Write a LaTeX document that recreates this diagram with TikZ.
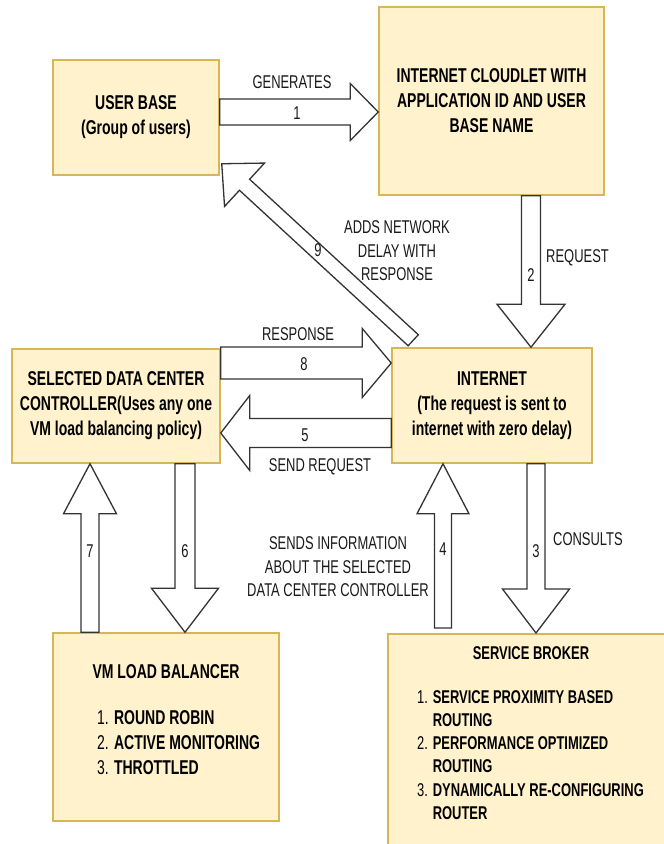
\documentclass[tikz,border=0pt]{standalone}
\usepackage{fontspec}
\setmainfont{Liberation Sans}[FakeStretch=0.7]
\usetikzlibrary{calc,positioning}

\definecolor{boxfill}{HTML}{FFF2CC}
\definecolor{boxline}{HTML}{D6B656}

% wide hollow arrow: tail, tip, half shaft, half head, head length
\newcommand{\blockarrow}[5]{%
  \coordinate (bh) at ($(#2)!#5pt!(#1)$);
  \draw[blockarr] ($(#1)!#3pt!90:(#2)$) -- ($(bh)!#3pt!90:(#2)$) -- ($(bh)!#4pt!90:(#2)$) -- (#2)
    -- ($(bh)!#4pt!-90:(#2)$) -- ($(bh)!#3pt!-90:(#2)$) -- ($(#1)!#3pt!-90:(#2)$) -- cycle;}

\begin{document}
\begin{tikzpicture}[x=1pt, y=-1pt,
    box/.style={draw=boxline, fill=boxfill, line width=1.5pt, align=center, inner sep=0pt,
      font=\fontsize{20}{25}\selectfont\bfseries},
    lbl/.style={font=\fontsize{18.5}{23.5}\selectfont, align=center, inner sep=0pt, text=black!90},
    blockarr/.style={draw=black!80, fill=white, line width=1.3pt, line join=miter}]
    \useasboundingbox (0,0) rectangle (664,844);
    \fill[white] (0,0) rectangle (664,844);

    % Boxes
    \node[box, minimum width=166pt, minimum height=115pt] (ub) at (136,117.5) {USER BASE\\(Group of users)};
    \node[box, minimum width=225pt, minimum height=188pt] (cl) at (491.5,101) {INTERNET CLOUDLET WITH\\APPLICATION ID AND USER\\BASE NAME};
    \node[box, minimum width=208pt, minimum height=114pt] (dc) at (116,406) {SELECTED DATA CENTER\\CONTROLLER(Uses any one\\VM load balancing policy)};
    \node[box, minimum width=200pt, minimum height=115pt] (inet) at (492,405.5) {INTERNET\\(The request is sent to\\internet with zero delay)};
    \node[box, minimum width=226pt, minimum height=188pt] (vm) at (166,727) {};
    \begin{scope}
        \clip (0,0) rectangle (664,844);
        \node[box, minimum width=300pt, minimum height=230pt, anchor=north west] (sb) at (387,633) {};
    \end{scope}

    % Box contents
    \node[font=\fontsize{20}{25}\selectfont\bfseries, inner sep=0pt] (vmt) at (166,672) {VM LOAD BALANCER};
    \node[font=\fontsize{20}{25}\selectfont, inner sep=0pt, anchor=base west] (vml) at (97,724)
        {\begin{tabular}[t]{@{}l@{ }l@{}}
        1. & \textbf{ROUND ROBIN}\\
        2. & \textbf{ACTIVE MONITORING}\\
        3. & \textbf{THROTTLED}
        \end{tabular}};
    \node[font=\fontsize{18.5}{23.3}\selectfont\bfseries, inner sep=0pt] (sbt) at (531,653) {SERVICE BROKER};
    \node[font=\fontsize{18.5}{23.3}\selectfont, inner sep=0pt, anchor=base west] (sbl) at (417,703)
        {\begin{tabular}[t]{@{}l@{ }l@{}}
        1. & \textbf{SERVICE PROXIMITY BASED}\\
           & \textbf{ROUTING}\\
        2. & \textbf{PERFORMANCE OPTIMIZED}\\
           & \textbf{ROUTING}\\
        3. & \textbf{DYNAMICALLY RE-CONFIGURING}\\
           & \textbf{ROUTER}
        \end{tabular}};

    % Arrow ends
    \coordinate (a1s) at (ub.east |- 0,112);
    \coordinate (a1e) at (cl.west |- 0,112);
    \coordinate (a2s) at (cl.south -| 531,0);
    \coordinate (a2e) at (inet.north -| 531,0);
    \coordinate (a3s) at (inet.south -| 536,0);
    \coordinate (a3e) at (sb.north -| 536,0);
    \coordinate (a4s) at ($(sb.north -| 443,0)+(0,-5)$);
    \coordinate (a4e) at (inet.south -| 443,0);
    \coordinate (a5s) at (inet.west |- 0,433);
    \coordinate (a5e) at (dc.east |- 0,433);
    \coordinate (a6s) at (dc.south -| 185,0);
    \coordinate (a6e) at (vm.north -| 185,0);
    \coordinate (a7s) at (vm.north -| 90,0);
    \coordinate (a7e) at (dc.south -| 90,0);
    \coordinate (a8s) at (dc.east |- 0,363);
    \coordinate (a8e) at (inet.west |- 0,363);
    \coordinate (a9s) at ($(inet.north west)+(22,-7)$);
    \coordinate (a9e) at ($(ub.south east)+(2,-12)$);

    % Arrows
    \blockarrow{a1s}{a1e}{13}{28.5}{28}
    \blockarrow{a2s}{a2e}{9.5}{34}{43}
    \blockarrow{a3s}{a3e}{9}{33.5}{44}
    \blockarrow{a4s}{a4e}{8.5}{26}{50}
    \blockarrow{a5s}{a5e}{14.5}{37.5}{29}
    \blockarrow{a6s}{a6e}{10}{33.5}{44}
    \blockarrow{a7s}{a7e}{9}{26.5}{50}
    \blockarrow{a8s}{a8e}{16}{34.5}{29}
    \blockarrow{a9s}{a9e}{7.5}{29.5}{31}

    % Labels
    \node[lbl] (l1t) at (292,82) {GENERATES};
    \node[lbl] (l1) at (297,113) {1};
    \node[lbl] (l2) at (531,275) {2};
    \node[lbl, anchor=west] (l2t) at (546,258) {REQUEST};
    \node[lbl] (l3) at (536,551) {3};
    \node[lbl, anchor=west] (l3t) at (553,539) {CONSULTS};
    \node[lbl] (l4) at (443,549) {4};
    \node[lbl] (l4t) at (338,567) {SENDS INFORMATION\\ABOUT THE SELECTED\\DATA CENTER CONTROLLER};
    \node[lbl] (l5) at (305,435) {5};
    \node[lbl] (l5t) at (320,467) {SEND REQUEST};
    \node[lbl] (l6) at (185,551) {6};
    \node[lbl] (l7) at (90,551) {7};
    \node[lbl] (l8) at (304,364) {8};
    \node[lbl] (l8t) at (298,334) {RESPONSE};
    \node[lbl] (l9) at (318,250) {9};
    \node[lbl] (l9t) at (397,251) {ADDS NETWORK\\DELAY WITH\\RESPONSE};
\end{tikzpicture}
\end{document}
